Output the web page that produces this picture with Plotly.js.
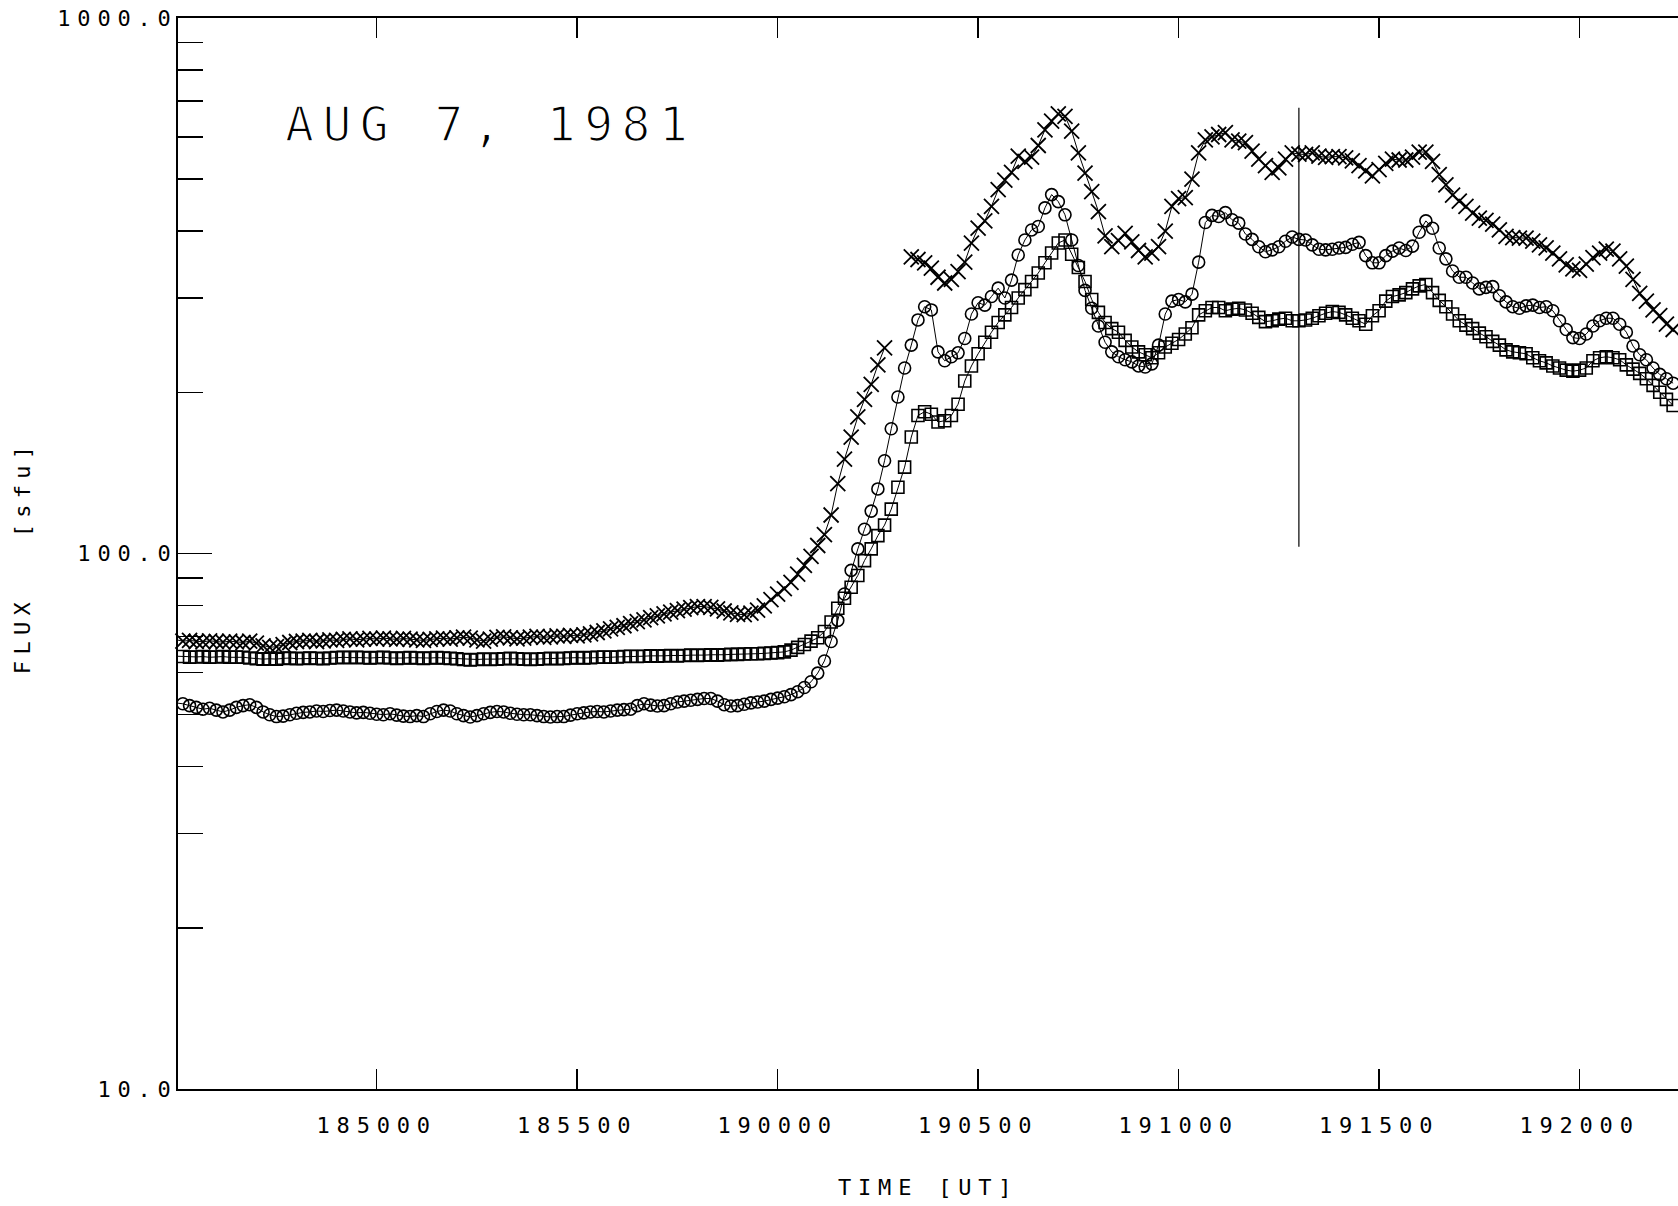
<!DOCTYPE html>
<html>
<head>
<meta charset="utf-8">
<script src="https://cdn.plot.ly/plotly-3.0.1.min.js"></script>
<style>
html,body{margin:0;padding:0;background:#fff;}
#chart{width:1678px;height:1206px;}
.xtick text, .ytick text { letter-spacing: 6.8px; }
</style>
</head>
<body>
<div id="chart"></div>
<script>
// Samples every 10 s, starting 18:45:00 UT (time axis in seconds after 18:45:00)
const sampleStart = 0;
const sampleStep = 10;

// Flux [sfu], series drawn with x markers (gap = missing samples)
const fluxCross = [69.0,68.6,68.8,68.5,68.4,68.7,68.5,68.3,68.6,68.4,
 68.2,68.6,68.0,67.2,66.8,67.0,67.6,68.2,68.5,68.6,
 68.8,68.5,68.7,69.0,68.8,69.1,69.3,69.0,69.2,69.4,
 69.2,69.5,69.3,69.1,69.4,69.2,69.0,68.8,69.1,69.3,
 69.5,69.2,69.6,69.8,69.5,69.0,68.6,69.2,69.7,69.9,
 69.6,69.3,69.5,69.8,70.0,69.7,69.9,70.2,70.0,70.3,
 70.2,70.5,70.8,71.2,71.7,72.3,72.8,73.3,74.0,74.6,
 75.2,75.9,76.5,77.1,77.7,78.2,78.7,79.2,79.6,79.6,
 79.3,78.8,78.1,77.5,77.0,76.9,77.4,78.4,79.8,82.0,
 84.0,86.0,88.3,91.5,95.0,98.8,103.5,108.5,118,135,
 150,165,180,194,207,225,242,null,null,null,
 358,354,349,341,328,320,325,336,350,380,
 405,418,445,478,498,515,552,540,550,578,
 618,642,662,655,615,560,513,474,435,392,
 374,384,396,382,368,358,364,374,400,445,
 460,462,500,560,592,600,606,611,592,589,
 585,564,545,530,515,525,545,560,557,556,
 560,552,549,551,551,548,541,530,518,507,
 521,535,545,543,543,550,562,562,540,510,
 488,467,455,445,432,423,419,412,402,391,
 389,388,388,383,377,372,364,355,346,340,
 338,347,357,364,370,367,355,344,325,306,
 296,285,278,268,262];

// Flux [sfu], series drawn with circles
const fluxCircle = [52.6,52.4,52.0,51.6,51.2,51.4,51.0,50.6,51.0,51.6,
 52.0,52.2,51.6,50.6,50.0,49.6,49.7,50.0,50.3,50.5,
 50.6,50.8,50.7,50.9,51.0,50.8,50.6,50.4,50.5,50.3,
 50.1,50.0,50.2,49.9,49.7,49.6,49.8,49.6,50.2,50.7,
 51.0,50.8,50.2,49.8,49.5,49.8,50.2,50.5,50.7,50.6,
 50.3,50.1,50.0,50.0,49.8,49.6,49.5,49.6,49.6,49.9,
 50.2,50.4,50.6,50.7,50.6,50.8,51.0,51.1,51.2,52.0,
 52.4,52.1,51.9,52.0,52.4,52.8,53.0,53.2,53.4,53.6,
 53.6,53.0,52.2,51.9,52.0,52.3,52.6,52.8,53.0,53.4,
 53.7,54.0,54.5,55.2,56.2,57.6,59.8,63.0,68.5,75.0,
 84,93,102,111,120,132,149,171,196,222,
 245,273,289,285,238,229,233,237,252,280,
 294,291,302,313,300,324,361,385,402,408,
 442,468,454,429,385,345,310,287,266,248,
 238,233,230,228,224,223,226,245,280,296,
 298,295,305,350,415,428,426,433,420,414,
 395,386,374,366,369,374,383,390,386,385,
 377,370,369,370,372,373,378,381,360,349,
 349,360,367,372,368,375,398,418,405,372,
 355,337,328,328,320,312,314,315,303,295,
 289,287,290,291,288,289,284,272,262,253,
 252,257,266,272,275,275,268,259,244,235,
 230,222,216,212,208];

// Flux [sfu], series drawn with squares
const fluxSquare = [64.3,64.2,64.0,64.1,64.2,64.0,64.1,64.2,64.0,64.1,
 64.0,63.8,63.6,63.5,63.6,63.5,63.7,63.8,63.6,63.7,
 63.8,63.7,63.6,63.8,63.9,64.0,63.9,64.0,63.9,63.8,
 63.9,64.0,63.8,63.7,63.8,63.9,63.8,63.7,63.8,63.9,
 63.8,63.7,63.6,63.4,63.3,63.4,63.5,63.4,63.5,63.6,
 63.7,63.6,63.5,63.4,63.5,63.6,63.7,63.6,63.7,63.8,
 63.9,63.8,63.9,64.0,64.1,64.0,64.1,64.2,64.3,64.2,
 64.3,64.4,64.3,64.4,64.5,64.4,64.5,64.6,64.5,64.6,
 64.7,64.6,64.7,64.8,64.8,64.9,65.0,65.0,65.1,65.2,
 65.3,65.5,66.0,66.8,67.6,68.6,69.6,71.5,74.5,79.0,
 82.5,86.5,91,97,102,108,113,121,133,145,
 165,181,184,182,176,177,181,190,210,224,
 236,248,259,270,279,288,300,311,322,334,
 349,364,380,385,362,342,322,298,282,270,
 263,259,250,243,238,235,232,237,243,247,
 251,257,264,279,284,288,288,284,286,287,
 285,281,276,271,272,274,275,272,272,273,
 275,278,281,283,282,279,275,272,268,278,
 284,296,302,304,307,312,316,318,307,297,
 289,280,272,267,263,258,254,249,245,240,
 238,237,236,232,229,227,224,222,220,219,
 220,222,229,232,233,232,230,225,221,217,
 212,206,200,194,189];

// Vertical marker line (time in s after 18:45:00, flux span)
const cursorTime = [1680, 1680];
const cursorFlux = [103, 680];

// Axis ticks
const timeTickSeconds = [300, 600, 900, 1200, 1500, 1800, 2100];
const timeTickLabels = ["185000","185500","190000","190500","191000","191500","192000"];
const timeRange = [2.7, 2247.3];
const fluxMajor = [10, 100, 1000];
const fluxMajorLabels = ["10.0", "100.0", "1000.0"];
const fluxMinor = [20,30,40,50,60,70,80,90,200,300,400,500,600,700,800,900];

const monoFont = "DejaVu Sans Mono, Liberation Mono, monospace";

const lineStyle = {color: '#000', width: 1};

const data = [
  {
    type: 'scatter', mode: 'lines+markers',
    x0: sampleStart, dx: sampleStep, y: fluxCross,
    connectgaps: false, cliponaxis: false,
    line: lineStyle,
    marker: {symbol: 'x-thin-open', size: 15, color: '#000', line: {width: 1.8, color: '#000'}},
    hoverinfo: 'skip'
  },
  {
    type: 'scatter', mode: 'lines+markers',
    x0: sampleStart, dx: sampleStep, y: fluxCircle,
    cliponaxis: false,
    line: lineStyle,
    marker: {symbol: 'circle-open', size: 12, color: '#000', line: {width: 1.6, color: '#000'}},
    hoverinfo: 'skip'
  },
  {
    type: 'scatter', mode: 'lines+markers',
    x0: sampleStart, dx: sampleStep, y: fluxSquare,
    cliponaxis: false,
    line: lineStyle,
    marker: {symbol: 'square-open', size: 12, color: '#000', line: {width: 1.6, color: '#000'}},
    hoverinfo: 'skip'
  },
  {
    type: 'scatter', mode: 'lines',
    x: cursorTime, y: cursorFlux,
    line: {color: '#000', width: 1.2},
    hoverinfo: 'skip'
  }
];

const layout = {
  width: 1678, height: 1206,
  margin: {l: 178, r: 0, t: 18, b: 117, pad: 0},
  paper_bgcolor: '#fff', plot_bgcolor: '#fff',
  showlegend: false,
  font: {family: monoFont, color: '#000'},
  xaxis: {
    type: 'linear', range: timeRange,
    tickmode: 'array', tickvals: timeTickSeconds, ticktext: timeTickLabels,
    ticks: 'inside', ticklen: 20, tickwidth: 1.5, tickcolor: '#000',
    showline: true, linecolor: '#000', linewidth: 2, mirror: 'ticks',
    showgrid: false, zeroline: false,
    tickfont: {family: monoFont, size: 22, color: '#000'},
    ticklabelstandoff: 16
  },
  yaxis: {
    type: 'log', range: [1, 3],
    tickmode: 'array', tickvals: fluxMajor, ticktext: fluxMajorLabels,
    ticks: 'inside', ticklen: 34, tickwidth: 1.5, tickcolor: '#000',
    minor: {tickmode: 'array', tickvals: fluxMinor, ticks: 'inside', ticklen: 25, tickwidth: 1.5, tickcolor: '#000', showgrid: false},
    showline: true, linecolor: '#000', linewidth: 2, mirror: false,
    showgrid: false, zeroline: false,
    tickfont: {family: monoFont, size: 22, color: '#000'},
    ticklabelstandoff: -6
  },
  annotations: [
    {
      text: '<span style="letter-spacing:8.5px;stroke:#fff;stroke-width:1.6px">AUG 7, 1981</span>',
      xref: 'paper', yref: 'paper', x: 0.208, y: 0.9008,
      xanchor: 'center', yanchor: 'middle', showarrow: false,
      font: {family: monoFont, size: 48, color: '#000'}
    },
    {
      text: '<span style="letter-spacing:6.8px">TIME [UT]</span>',
      xref: 'paper', yref: 'paper', x: 0.500, y: -0.092,
      xanchor: 'center', yanchor: 'middle', showarrow: false,
      font: {family: monoFont, size: 22, color: '#000'}
    },
    {
      text: '<span style="letter-spacing:6.3px">FLUX\u00a0\u00a0\u00a0[sfu]</span>',
      xref: 'paper', yref: 'paper', x: -0.1037, y: 0.497,
      xanchor: 'center', yanchor: 'middle', showarrow: false, textangle: -90,
      font: {family: monoFont, size: 22, color: '#000'}
    }
  ]
};

Plotly.newPlot('chart', data, layout, {staticPlot: true, displayModeBar: false});
</script>
</body>
</html>
